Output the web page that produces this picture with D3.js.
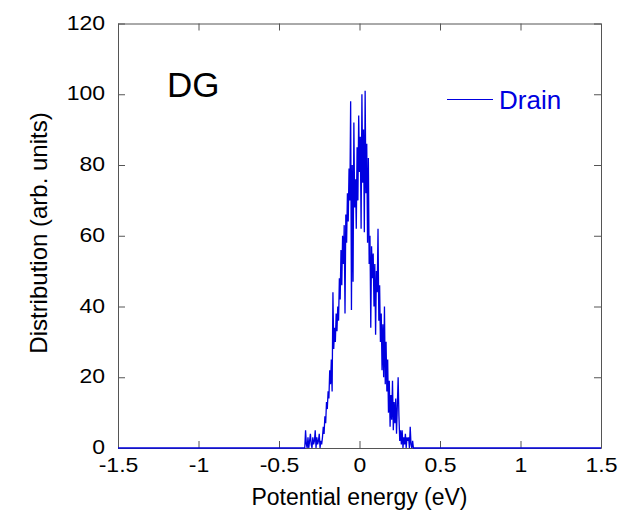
<!DOCTYPE html>
<html>
<head>
<meta charset="utf-8">
<script src="https://cdn.jsdelivr.net/npm/d3@7/dist/d3.min.js"></script>
<style>
  html, body { margin: 0; padding: 0; background: #fff; }
  svg { display: block; font-family: "Liberation Sans", Arial, Helvetica, sans-serif; }
</style>
</head>
<body>
<svg id="chart" width="630" height="512"></svg>
<script>
// ---- data ----
const energy = [-1.5,
  -0.340,-0.335,-0.330,-0.325,-0.320,-0.315,-0.310,-0.305,-0.300,-0.295,
  -0.290,-0.285,-0.280,-0.275,-0.270,-0.265,-0.260,-0.255,-0.250,-0.245,
  -0.240,-0.235,-0.230,-0.225,-0.220,-0.215,-0.210,-0.205,-0.200,-0.195,
  -0.190,-0.185,-0.180,-0.175,-0.170,-0.165,-0.160,-0.155,-0.150,-0.145,
  -0.140,-0.135,-0.130,-0.125,-0.120,-0.115,-0.110,-0.105,-0.100,-0.095,
  -0.090,-0.085,-0.080,-0.075,-0.070,-0.065,-0.060,-0.055,-0.050,-0.045,
  -0.040,-0.035,-0.030,-0.025,-0.020,-0.015,-0.010,-0.005,0.000,0.005,
  0.010,0.015,0.020,0.025,0.030,0.035,0.040,0.045,0.050,0.055,
  0.060,0.065,0.070,0.075,0.080,0.085,0.090,0.095,0.100,0.105,
  0.110,0.115,0.120,0.125,0.130,0.135,0.140,0.145,0.150,0.155,
  0.160,0.165,0.170,0.175,0.180,0.185,0.190,0.195,0.200,0.205,
  0.210,0.215,0.220,0.225,0.230,0.235,0.240,0.245,0.250,0.255,
  0.260,0.265,0.270,0.275,0.280,0.285,0.290,0.295,0.300,0.305,
  0.310,0.315,0.320,0.325,0.330,0.335,0.340,
  1.5];
const drain = [0,
  0,5,1,0,3,0,2,4,1,0,
  3,1,2,5,0,3,1,2,4,0,
  2,1,3,6,4,9,7,13,11,16,
  14,22,18,25,16,44,28,34,30,38,
  33,40,36,48,42,56,46,60,52,63,
  38,66,58,72,64,79,70,98,39,80,
  47,92,68,76,62,85,70,94,78,88,
  62,100,75,90,61,101,72,86,58,82,
  52,60,34,57,48,55,40,52,32,50,
  44,62,36,46,30,38,22,35,20,40,
  18,30,16,25,10,19,6,15,8,19,
  5,13,7,14,4,12,20,9,2,5,
  1,5,0,3,1,4,0,3,2,3,
  0,6,1,0,2,0,0,
  0];
const xTicks = [-1.5, -1, -0.5, 0, 0.5, 1, 1.5];
const xTickLabels = ["-1.5", "-1", "-0.5", "0", "0.5", "1", "1.5"];
const yTicks = [0, 20, 40, 60, 80, 100, 120];
const yTickLabels = ["0", "20", "40", "60", "80", "100", "120"];
const seriesName = "Drain";
const panelLabel = "DG";
const xTitle = "Potential energy (eV)";
const yTitle = "Distribution (arb. units)";

// ---- layout ----
const svg = d3.select("#chart");
const L = 118, R = 601, T = 23.5, B = 448;
const x = d3.scaleLinear().domain([-1.5, 1.5]).range([L, R]);
const y = d3.scaleLinear().domain([0, 120]).range([B, T]);
const axisColor = "#555";
const blue = "#0000e0";
const stretch = 1.15;

function styleAxis(g) {
  g.select(".domain").attr("stroke", axisColor).attr("stroke-width", 1);
  g.selectAll(".tick line").attr("stroke", axisColor).attr("stroke-width", 1);
  g.selectAll("text").attr("fill", "#000").attr("font-size", 20)
    .attr("font-family", "Liberation Sans, Arial, sans-serif");
}

// bottom
const gB = svg.append("g").attr("transform", `translate(0,${B})`)
  .call(d3.axisBottom(x).tickValues(xTicks).tickSizeInner(-7).tickSizeOuter(0)
    .tickPadding(10).tickFormat((d, i) => xTickLabels[i]));
styleAxis(gB);
gB.selectAll(".tick text").attr("transform", `scale(${stretch},1)`);

// top
const gT = svg.append("g").attr("transform", `translate(0,${T})`)
  .call(d3.axisTop(x).tickValues(xTicks).tickSizeInner(-7).tickSizeOuter(0).tickFormat(""));
styleAxis(gT);

// left
const gL = svg.append("g").attr("transform", `translate(${L},0)`)
  .call(d3.axisLeft(y).tickValues(yTicks).tickSizeInner(-7).tickSizeOuter(0)
    .tickPadding(13).tickFormat((d, i) => yTickLabels[i]));
styleAxis(gL);
gL.selectAll(".tick text").attr("x", -13 / stretch).attr("dy", "0.28em")
  .attr("transform", `scale(${stretch},1)`);

// right
const gR = svg.append("g").attr("transform", `translate(${R},0)`)
  .call(d3.axisRight(y).tickValues(yTicks).tickSizeInner(-7).tickSizeOuter(0).tickFormat(""));
styleAxis(gR);

// data line
const pts = energy.map((e, i) => [e, drain[i]]);
svg.append("path")
  .datum(pts)
  .attr("fill", "none")
  .attr("stroke", blue)
  .attr("stroke-width", 1.3)
  .attr("stroke-linejoin", "miter")
  .attr("d", d3.line().x(d => x(d[0])).y(d => y(d[1])));

// panel label
svg.append("text").attr("x", 167).attr("y", 97)
  .attr("font-size", 35).attr("fill", "#000").text(panelLabel);

// legend
svg.append("line").attr("x1", 447).attr("x2", 493).attr("y1", 99.5).attr("y2", 99.5)
  .attr("stroke", blue).attr("stroke-width", 1);
svg.append("text").attr("x", 499).attr("y", 109)
  .attr("font-size", 26).attr("fill", blue).text(seriesName);

// axis titles
svg.append("text").attr("x", (L + R) / 2).attr("y", 505)
  .attr("text-anchor", "middle").attr("font-size", 23).attr("fill", "#000").text(xTitle);
svg.append("text").attr("transform", `translate(47,233) rotate(-90)`)
  .attr("text-anchor", "middle").attr("font-size", 24).attr("fill", "#000").text(yTitle);
</script>
</body>
</html>
